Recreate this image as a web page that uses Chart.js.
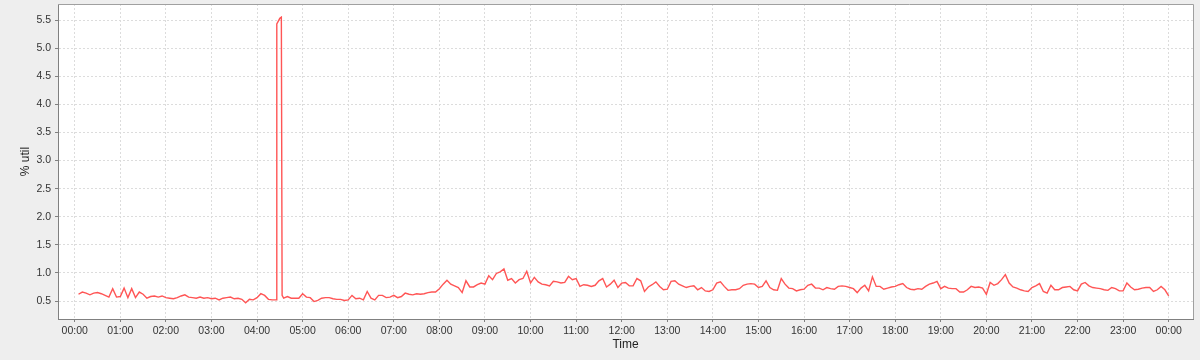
<!DOCTYPE html>
<html>
<head>
<meta charset="utf-8">
<script src="https://cdn.jsdelivr.net/npm/chart.js@4/dist/chart.umd.min.js"></script>
<style>
  body { margin: 0; background: #eeeeee; }
  #wrap { width: 1200px; height: 360px; }
</style>
</head>
<body>
<div id="wrap"><canvas id="myChart"></canvas></div>
<script>
// sample times, minutes after midnight
const minutes = [
  5, 10, 15, 20, 25, 30, 35, 40, 45, 50, 55, 60, 65, 70, 75, 80, 85, 90, 95, 100,
  105, 110, 115, 120, 125, 130, 135, 140, 145, 150, 155, 160, 165, 170, 175, 180, 185, 190, 195, 200,
  205, 210, 215, 220, 225, 230, 235, 240, 245, 250, 255, 260, 265, 266, 268, 270, 272, 273, 275, 280,
  285, 290, 295, 300, 305, 310, 315, 320, 325, 330, 335, 340, 345, 350, 355, 360, 365, 370, 375, 380,
  385, 390, 395, 400, 405, 410, 415, 420, 425, 430, 435, 440, 445, 450, 455, 460, 465, 470, 475, 480,
  485, 490, 495, 500, 505, 510, 515, 520, 525, 530, 535, 540, 545, 550, 555, 560, 565, 570, 575, 580,
  585, 590, 595, 600, 605, 610, 615, 620, 625, 630, 635, 640, 645, 650, 655, 660, 665, 670, 675, 680,
  685, 690, 695, 700, 705, 710, 715, 720, 725, 730, 735, 740, 745, 750, 755, 760, 765, 770, 775, 780,
  785, 790, 795, 800, 805, 810, 815, 820, 825, 830, 835, 840, 845, 850, 855, 860, 865, 870, 875, 880,
  885, 890, 895, 900, 905, 910, 915, 920, 925, 930, 935, 940, 945, 950, 955, 960, 965, 970, 975, 980,
  985, 990, 995, 1000, 1005, 1010, 1015, 1020, 1025, 1030, 1035, 1040, 1045, 1050, 1055, 1060, 1065, 1070, 1075, 1080,
  1085, 1090, 1095, 1100, 1105, 1110, 1115, 1120, 1125, 1130, 1135, 1140, 1145, 1150, 1155, 1160, 1165, 1170, 1175, 1180,
  1185, 1190, 1195, 1200, 1205, 1210, 1215, 1220, 1225, 1230, 1235, 1240, 1245, 1250, 1255, 1260, 1265, 1270, 1275, 1280,
  1285, 1290, 1295, 1300, 1305, 1310, 1315, 1320, 1325, 1330, 1335, 1340, 1345, 1350, 1355, 1360, 1365, 1370, 1375, 1380,
  1385, 1390, 1395, 1400, 1405, 1410, 1415, 1420, 1425, 1430, 1435, 1440
];

// % util at each sample
const util = [
  0.62, 0.66, 0.64, 0.61, 0.64, 0.65, 0.63, 0.60, 0.57, 0.72, 0.57, 0.58, 0.73, 0.56, 0.72, 0.56, 0.66, 0.62, 0.55, 0.58,
  0.59, 0.57, 0.59, 0.56, 0.55, 0.54, 0.56, 0.59, 0.61, 0.57, 0.56, 0.55, 0.57, 0.55, 0.56, 0.54, 0.55, 0.52, 0.55, 0.56,
  0.57, 0.54, 0.55, 0.53, 0.47, 0.53, 0.52, 0.56, 0.63, 0.60, 0.53, 0.52, 0.52, 5.43, 5.48, 5.53, 5.55, 0.60, 0.55, 0.58,
  0.55, 0.55, 0.55, 0.63, 0.57, 0.56, 0.49, 0.51, 0.55, 0.56, 0.56, 0.54, 0.53, 0.53, 0.51, 0.52, 0.60, 0.54, 0.55, 0.52,
  0.67, 0.55, 0.52, 0.60, 0.60, 0.56, 0.57, 0.60, 0.56, 0.58, 0.64, 0.62, 0.61, 0.63, 0.62, 0.63, 0.65, 0.66, 0.66, 0.72,
  0.80, 0.87, 0.80, 0.77, 0.74, 0.65, 0.86, 0.75, 0.75, 0.79, 0.82, 0.80, 0.95, 0.88, 0.99, 1.02, 1.07, 0.87, 0.90, 0.82,
  0.88, 0.90, 1.03, 0.82, 0.92, 0.84, 0.80, 0.79, 0.77, 0.85, 0.84, 0.82, 0.83, 0.94, 0.88, 0.90, 0.76, 0.79, 0.78, 0.76,
  0.78, 0.86, 0.90, 0.75, 0.80, 0.87, 0.74, 0.82, 0.83, 0.77, 0.77, 0.90, 0.86, 0.67, 0.75, 0.79, 0.84, 0.76, 0.70, 0.71,
  0.85, 0.86, 0.80, 0.77, 0.74, 0.76, 0.77, 0.70, 0.74, 0.68, 0.67, 0.70, 0.82, 0.84, 0.76, 0.69, 0.70, 0.70, 0.72, 0.78,
  0.80, 0.81, 0.80, 0.74, 0.76, 0.86, 0.74, 0.70, 0.69, 0.90, 0.80, 0.73, 0.72, 0.68, 0.70, 0.71, 0.78, 0.80, 0.73, 0.73,
  0.70, 0.74, 0.72, 0.71, 0.76, 0.77, 0.76, 0.74, 0.72, 0.65, 0.73, 0.78, 0.68, 0.93, 0.76, 0.76, 0.71, 0.73, 0.75, 0.76,
  0.79, 0.81, 0.74, 0.71, 0.70, 0.72, 0.71, 0.76, 0.80, 0.82, 0.85, 0.72, 0.76, 0.73, 0.72, 0.72, 0.66, 0.66, 0.70, 0.76,
  0.74, 0.75, 0.73, 0.62, 0.83, 0.78, 0.81, 0.88, 0.97, 0.82, 0.75, 0.73, 0.70, 0.68, 0.67, 0.74, 0.77, 0.81, 0.67, 0.64,
  0.78, 0.70, 0.70, 0.74, 0.75, 0.76, 0.70, 0.68, 0.80, 0.83, 0.77, 0.74, 0.73, 0.72, 0.70, 0.69, 0.74, 0.72, 0.68, 0.68,
  0.82, 0.75, 0.70, 0.71, 0.73, 0.74, 0.74, 0.67, 0.70, 0.76, 0.70, 0.59
];

const fontFamily = '"Liberation Sans", Arial, sans-serif';

// turn minutes into an hh:00 label
const hourLabel = (value) => {
  let h = Math.round(value / 60) % 24;
  return (h < 10 ? '0' : '') + h + ':00';
};

// white plot area with a thin outline
const plotBackground = {
  id: 'plotBackground',
  beforeDraw: (chart) => {
    const { ctx, chartArea } = chart;
    ctx.save();
    ctx.fillStyle = '#ffffff';
    ctx.fillRect(chartArea.left, chartArea.top, chartArea.width, chartArea.height);
    ctx.restore();
  },
  afterDraw: (chart) => {
    const { ctx, chartArea } = chart;
    ctx.save();
    ctx.strokeStyle = '#a0a0a0';
    ctx.lineWidth = 1;
    ctx.beginPath();
    ctx.moveTo(chartArea.left, chartArea.top + 0.5);
    ctx.lineTo(chartArea.right + 0.5, chartArea.top + 0.5);
    ctx.lineTo(chartArea.right + 0.5, chartArea.bottom);
    ctx.stroke();
    ctx.restore();
  },
};

const points = minutes.map((m, i) => ({ x: m, y: util[i] }));

let ctx = document.getElementById('myChart').getContext('2d');

new Chart(ctx, {
  type: 'line',
  data: {
    datasets: [
      {
        label: '% util',
        data: points,
        borderColor: '#ff5555',
        borderWidth: 1.4,
        pointRadius: 0,
        tension: 0,
        fill: false,
      },
    ],
  },
  options: {
    responsive: true,
    maintainAspectRatio: false,
    animation: false,
    layout: { padding: { top: 4, right: 7, bottom: 0, left: 0 } },
    plugins: {
      legend: { display: false },
      tooltip: { enabled: false },
    },
    scales: {
      x: {
        type: 'linear',
        min: -22,
        max: 1472,
        afterFit: (scale) => { scale.height = 41; },
        ticks: {
          stepSize: 60,
          includeBounds: false,
          autoSkip: false,
          maxRotation: 0,
          padding: 3,
          color: '#333333',
          font: { family: fontFamily, size: 10.5 },
          callback: (value) => hourLabel(value),
        },
        grid: { color: '#dcdcdc', tickColor: '#808080', tickLength: 3 },
        border: { color: '#808080', width: 1, dash: [2, 2] },
        title: {
          display: true,
          text: 'Time',
          color: '#222222',
          font: { family: fontFamily, size: 12 },
          padding: { top: 0, bottom: 8 },
        },
      },
      y: {
        min: 0.18,
        max: 5.785,
        afterFit: (scale) => {
          scale.width = 58;
          scale.paddingTop = 0;
          scale.paddingBottom = 0;
        },
        ticks: {
          stepSize: 0.5,
          includeBounds: false,
          padding: 4,
          color: '#333333',
          font: { family: fontFamily, size: 10.5 },
          callback: (value) => value.toFixed(1),
        },
        grid: { color: '#dcdcdc', tickColor: '#808080', tickLength: 3 },
        border: { color: '#808080', width: 1, dash: [2, 2] },
        title: {
          display: true,
          text: '% util',
          color: '#222222',
          font: { family: fontFamily, size: 12 },
          padding: { top: 18, bottom: 0 },
        },
      },
    },
  },
  plugins: [plotBackground],
});
</script>
</body>
</html>
